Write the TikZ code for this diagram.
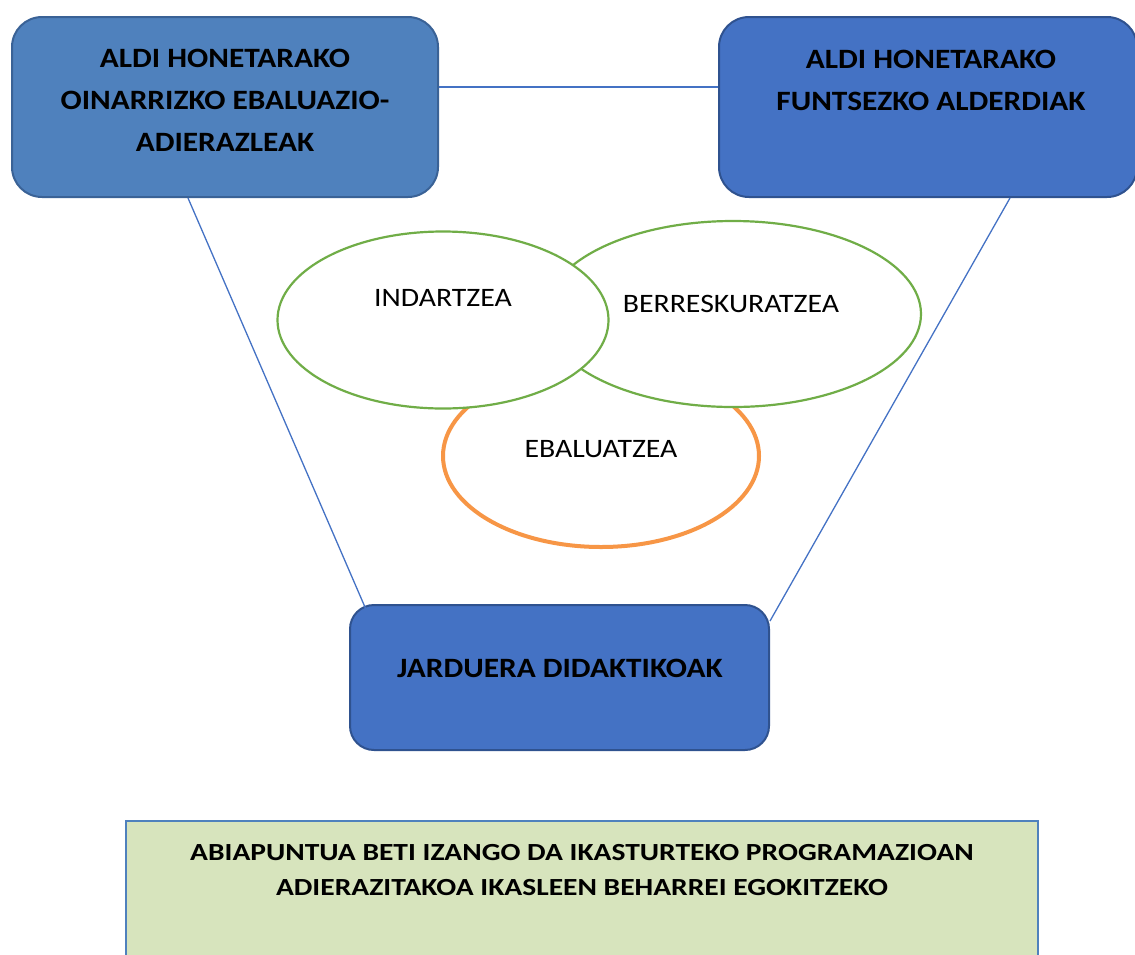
\documentclass[tikz,border=0pt]{standalone}
\usepackage{fontspec}
\setmainfont{Carlito}[FakeStretch=1.12]
\newfontfamily\widefont{Carlito}[FakeStretch=1.2]
\usetikzlibrary{shapes.geometric, positioning}

\definecolor{steelblue}{HTML}{4F81BD}
\definecolor{steelline}{HTML}{3A6296}
\definecolor{royalblue}{HTML}{4472C4}
\definecolor{royalline}{HTML}{2F528F}
\definecolor{ovalgreen}{HTML}{70AD47}
\definecolor{ovalorange}{HTML}{F79646}
\definecolor{notegreen}{HTML}{D7E4BD}

\begin{document}
\begin{tikzpicture}
% style
	[x=0.5pt, y=-0.5pt,
	box/.style={rectangle, rounded corners=15pt, line width=1pt, inner sep=0pt},
	title/.style={font=\bfseries\fontsize{14}{21}\selectfont, align=center, inner sep=0pt},
	oval/.style={ellipse, draw=ovalgreen, fill=white, line width=1.1pt, inner sep=0pt},
	word/.style={font=\fontsize{13.3}{16}\selectfont, inner sep=0pt},
	note/.style={font=\widefont\bfseries\fontsize{12.3}{17.5}\selectfont, align=center, inner sep=0pt},
	link/.style={draw=royalblue, line width=0.65pt}]

	\useasboundingbox (0,0) rectangle (1135,954);

	% boxes
	\node [box, draw=steelline, fill=steelblue, minimum width=213pt, minimum height=90pt] (indicators) at (225,107) {};
	\node [box, draw=royalline, fill=royalblue, minimum width=209pt, minimum height=90pt] (aspects) at (928,107) {};
	\node [box, draw=royalline, fill=royalblue, rounded corners=12pt, minimum width=209.5pt, minimum height=72.5pt] (activities) at (559.5,677.5) {};
	\node [rectangle, draw=steelblue, fill=notegreen, line width=0.6pt, minimum width=456pt, minimum height=80pt, inner sep=0pt] (start) at (582,901) {};

	\node [title] at (225,100) {ALDI HONETARAKO\\OINARRIZKO EBALUAZIO-\\ADIERAZLEAK};
	\node [title] at (931,80) {ALDI HONETARAKO\\FUNTSEZKO ALDERDIAK};
	\node [title] at (560,668) {JARDUERA DIDAKTIKOAK};
	\node [note] at (582,870) {ABIAPUNTUA BETI IZANGO DA IKASTURTEKO PROGRAMAZIOAN\\ADIERAZITAKOA IKASLEEN BEHARREI EGOKITZEKO};

	% ovals
	\node [oval, draw=ovalorange, line width=2pt, minimum width=158pt, minimum height=91pt] (evaluate) at (601,456) {};
	\node [oval, minimum width=188pt, minimum height=93pt] (recover) at (733,314) {};
	\node [oval, minimum width=165.5pt, minimum height=88.5pt] (reinforce) at (443,320) {};
	\node [word] (evaluate_label) at (601,449) {EBALUATZEA};
	\node [word] (recover_label) at (731,304) {BERRESKURATZEA};
	\node [word] (reinforce_label) at (443,298) {INDARTZEA};

	% links
	\path[link] ([yshift=10pt]indicators.east) edge ([yshift=10pt]aspects.west)
	            ([xshift=-18.5pt]indicators.south) edge ([xshift=11pt, yshift=-8.5pt]activities.north west)
	            ([xshift=41pt]aspects.south) edge ([yshift=-8.5pt]activities.north east);
\end{tikzpicture}
\end{document}
